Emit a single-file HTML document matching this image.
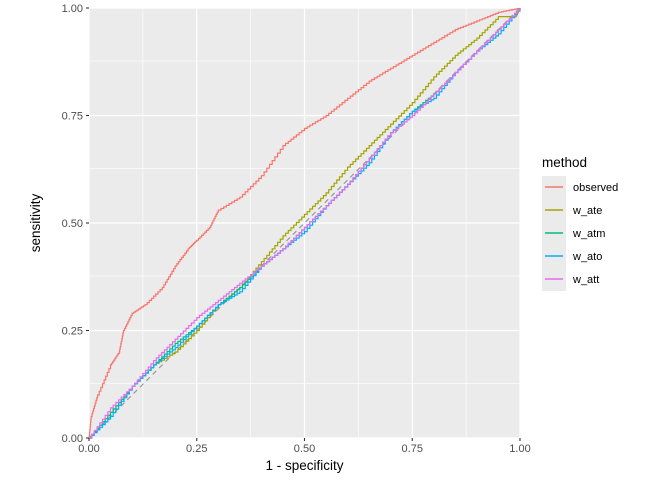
<!DOCTYPE html>
<html><head><style>body{margin:0;background:#fff}svg{display:block}text{font-family:"Liberation Sans",sans-serif}</style></head>
<body>
<svg id="s" width="672" height="480" xmlns="http://www.w3.org/2000/svg">
<rect x="89" y="8" width="431" height="430" fill="#ebebeb"/>
<g stroke="#fff" stroke-width="0.6">
<line x1="142.9" y1="8" x2="142.9" y2="438"/><line x1="250.6" y1="8" x2="250.6" y2="438"/><line x1="358.4" y1="8" x2="358.4" y2="438"/><line x1="466.1" y1="8" x2="466.1" y2="438"/>
<line x1="89" y1="383.6" x2="520" y2="383.6"/><line x1="89" y1="276.1" x2="520" y2="276.1"/><line x1="89" y1="168.6" x2="520" y2="168.6"/><line x1="89" y1="61.1" x2="520" y2="61.1"/>
</g>
<g stroke="#fff" stroke-width="1.2">
<line x1="89" y1="8" x2="89" y2="438"/><line x1="196.75" y1="8" x2="196.75" y2="438"/><line x1="304.5" y1="8" x2="304.5" y2="438"/><line x1="412.25" y1="8" x2="412.25" y2="438"/><line x1="520" y1="8" x2="520" y2="438"/>
<line x1="89" y1="438" x2="520" y2="438"/><line x1="89" y1="330.5" x2="520" y2="330.5"/><line x1="89" y1="223" x2="520" y2="223"/><line x1="89" y1="115.5" x2="520" y2="115.5"/><line x1="89" y1="8" x2="520" y2="8"/>
</g>
<line x1="89" y1="438" x2="520" y2="8" stroke="#999" stroke-width="1.2" stroke-dasharray="5,4"/>
<g id="lines" fill="none" stroke-width="1.2"></g>
<g stroke="#333" stroke-width="1.1">
<line x1="86" y1="438" x2="89" y2="438"/><line x1="86" y1="330.5" x2="89" y2="330.5"/><line x1="86" y1="223" x2="89" y2="223"/><line x1="86" y1="115.5" x2="89" y2="115.5"/><line x1="86" y1="8" x2="89" y2="8"/>
<line x1="89" y1="438" x2="89" y2="441"/><line x1="196.75" y1="438" x2="196.75" y2="441"/><line x1="304.5" y1="438" x2="304.5" y2="441"/><line x1="412.25" y1="438" x2="412.25" y2="441"/><line x1="520" y1="438" x2="520" y2="441"/>
</g>
<g font-size="11" fill="#4d4d4d" text-anchor="end">
<text x="83" y="442">0.00</text><text x="83" y="334.5">0.25</text><text x="83" y="227">0.50</text><text x="83" y="119.5">0.75</text><text x="83" y="12">1.00</text>
</g>
<g font-size="11" fill="#4d4d4d" text-anchor="middle">
<text x="89" y="452">0.00</text><text x="196.75" y="452">0.25</text><text x="304.5" y="452">0.50</text><text x="412.25" y="452">0.75</text><text x="520" y="452">1.00</text>
</g>
<text x="304.5" y="470" font-size="13.5" text-anchor="middle" fill="#000">1 - specificity</text>
<text transform="translate(40,223) rotate(-90)" font-size="13.5" text-anchor="middle" fill="#000">sensitivity</text>
<text x="542" y="167" font-size="13.5" fill="#000">method</text>
<rect x="542" y="176" width="24" height="115" fill="#ebebeb"/>
<g stroke-width="1.5">
<line x1="545" y1="187" x2="563" y2="187" stroke="#F8766D"/>
<line x1="545" y1="210" x2="563" y2="210" stroke="#A3A500"/>
<line x1="545" y1="233" x2="563" y2="233" stroke="#00BF7D"/>
<line x1="545" y1="256" x2="563" y2="256" stroke="#00B0F6"/>
<line x1="545" y1="279" x2="563" y2="279" stroke="#E76BF3"/>
</g>
<g font-size="11" fill="#000">
<text x="573" y="191">observed</text><text x="573" y="214">w_ate</text><text x="573" y="237">w_atm</text><text x="573" y="260">w_ato</text><text x="573" y="283">w_att</text>
</g>
</svg>
<script>
const g=document.getElementById('lines');
function P(x,y){return (89+431*x).toFixed(1)+','+(438-430*y).toFixed(1);}
function stair(pts,col){
 let d=[];let px=0,py=0;
 for(let i=1;i<pts.length;i++){const [x0,y0]=pts[i-1],[x1,y1]=pts[i];const n=8;
  for(let k=1;k<=n;k++){const t=k/n;const x=x0+(x1-x0)*t,y=y0+(y1-y0)*t;d.push(P(px,py));d.push(P(x,py));d.push(P(x,y));px=x;py=y;}}
 const e=document.createElementNS('http://www.w3.org/2000/svg','polyline');
 e.setAttribute('points',d.join(' '));e.setAttribute('stroke',col);g.appendChild(e);
}
const obs=[[0,0],[0.005,0.05],[0.02,0.1],[0.05,0.17],[0.07,0.2],[0.08,0.25],[0.1,0.29],[0.13,0.31],[0.17,0.35],[0.2,0.4],[0.23,0.44],[0.25,0.46],[0.28,0.49],[0.3,0.53],[0.35,0.56],[0.4,0.61],[0.45,0.68],[0.5,0.72],[0.55,0.75],[0.6,0.79],[0.65,0.83],[0.7,0.86],[0.75,0.89],[0.8,0.92],[0.85,0.95],[0.9,0.97],[0.95,0.99],[1,1]];
const base=[[0,0],[0.05,0.06],[0.1,0.12],[0.15,0.17],[0.2,0.22],[0.25,0.26],[0.3,0.31],[0.35,0.35],[0.4,0.4],[0.45,0.44],[0.5,0.49],[0.55,0.54],[0.6,0.59],[0.65,0.65],[0.7,0.71],[0.75,0.76],[0.8,0.8],[0.85,0.85],[0.9,0.9],[0.95,0.95],[1,1]];
const ate=[[0,0],[0.05,0.06],[0.1,0.12],[0.15,0.17],[0.2,0.2],[0.25,0.25],[0.3,0.31],[0.35,0.35],[0.4,0.41],[0.45,0.47],[0.5,0.52],[0.55,0.57],[0.6,0.63],[0.65,0.68],[0.7,0.73],[0.75,0.78],[0.8,0.84],[0.85,0.89],[0.9,0.93],[0.95,0.98],[0.99,0.98],[1,1]];
const att=[[0,0],[0.05,0.07],[0.1,0.12],[0.15,0.18],[0.2,0.23],[0.25,0.28],[0.3,0.32],[0.35,0.36],[0.4,0.4],[0.45,0.44],[0.5,0.49],[0.55,0.54],[0.6,0.59],[0.65,0.65],[0.7,0.71],[0.75,0.75],[0.8,0.8],[0.85,0.85],[0.9,0.9],[0.95,0.95],[1,1]];
const ato=base.map(([x,y],i)=>[x,Math.min(1,i%3==1?y-0.01:y)]);
stair(obs,'#F8766D');stair(ate,'#A3A500');stair(base,'#00BF7D');stair(ato,'#00B0F6');stair(att,'#E76BF3');
</script>
</body></html>
